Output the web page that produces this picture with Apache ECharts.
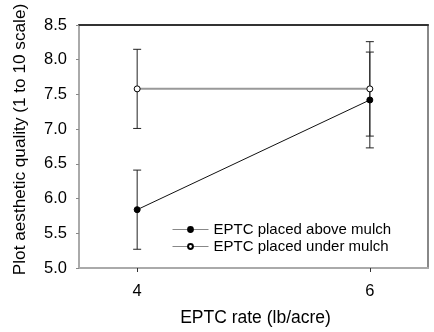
<!DOCTYPE html>
<html>
<head>
<meta charset="utf-8">
<script src="https://cdn.jsdelivr.net/npm/echarts@6/dist/echarts.min.js"></script>
<style>
  html, body { margin: 0; padding: 0; background: #fff; }
  #chart { width: 434px; height: 332px; }
</style>
</head>
<body>
<div id="chart"></div>
<script>
const rates = [4, 6];
const aboveMean = [5.84, 7.42];
const aboveErr = [0.57, 0.69];
const underMean = [7.58, 7.58];
const underErr = [0.57, 0.68];

const font = "Arial, 'Liberation Sans', sans-serif";

function errData(means, errs) {
    return rates.map((r, i) => [r, means[i] - errs[i], means[i] + errs[i]]);
}

function errorBar(params, api) {
    const lo = api.coord([api.value(0), api.value(1)]);
    const hi = api.coord([api.value(0), api.value(2)]);
    const w = 4;
    const style = { stroke: "#222", lineWidth: 1 };
    return {
        type: "group",
        children: [
            { type: "line", shape: { x1: lo[0], y1: lo[1], x2: hi[0], y2: hi[1] }, style },
            { type: "line", shape: { x1: hi[0] - w, y1: hi[1], x2: hi[0] + w, y2: hi[1] }, style },
            { type: "line", shape: { x1: lo[0] - w, y1: lo[1], x2: lo[0] + w, y2: lo[1] }, style },
        ],
    };
}

const chart = echarts.init(document.getElementById("chart"), null, { renderer: "canvas" });

chart.setOption({
    animation: false,
    backgroundColor: "#fff",
    grid: { left: 79, right: 6, top: 25, bottom: 61 },
    legend: {
        left: 167,
        top: 217,
        orient: "vertical",
        itemWidth: 36,
        itemHeight: 6,
        itemGap: 2,
        textStyle: { fontFamily: font, fontSize: 15, color: "#000" },
        data: [
            { name: "EPTC placed above mulch", lineStyle: { color: "#888", width: 1 } },
            { name: "EPTC placed under mulch", lineStyle: { color: "#888", width: 1 } },
        ],
    },
    xAxis: [
        {
            type: "value",
            min: 3.5,
            max: 6.5,
            position: "bottom",
            name: "EPTC rate (lb/acre)",
            nameLocation: "middle",
            nameGap: 41,
            nameTextStyle: { fontFamily: font, fontSize: 17.5, color: "#000", padding: [0, 0, 0, 4] },
            axisLine: { lineStyle: { color: "#aaa", width: 2 } },
            axisTick: { customValues: rates, length: 4, lineStyle: { color: "#333" } },
            axisLabel: { customValues: rates, margin: 15, fontFamily: font, fontSize: 16.5, color: "#000" },
            splitLine: { show: false },
        },
        {
            type: "value",
            min: 3.5,
            max: 6.5,
            position: "top",
            axisLine: { lineStyle: { color: "#333", width: 2 } },
            axisTick: { show: false },
            axisLabel: { show: false },
            splitLine: { show: false },
        },
    ],
    yAxis: [
        {
            type: "value",
            min: 5,
            max: 8.5,
            interval: 0.5,
            position: "left",
            name: "Plot aesthetic quality (1 to 10 scale)",
            nameLocation: "middle",
            nameGap: 50,
            nameTextStyle: { fontFamily: font, fontSize: 17.2, color: "#000", padding: [0, 0, 0, 14] },
            axisLine: { show: true, lineStyle: { color: "#aaa", width: 2 } },
            axisTick: { show: true, length: 3, lineStyle: { color: "#888" } },
            axisLabel: {
                margin: 12,
                fontFamily: font,
                fontSize: 16.5,
                color: "#000",
                formatter: (v) => v.toFixed(1),
            },
            splitLine: { show: false },
        },
        {
            type: "value",
            min: 5,
            max: 8.5,
            position: "right",
            axisLine: { show: true, lineStyle: { color: "#888", width: 2 } },
            axisTick: { show: false },
            axisLabel: { show: false },
            splitLine: { show: false },
        },
    ],
    series: [
        {
            type: "custom",
            renderItem: errorBar,
            data: errData(underMean, underErr),
            z: 1,
            silent: true,
        },
        {
            type: "custom",
            renderItem: errorBar,
            data: errData(aboveMean, aboveErr),
            z: 1,
            silent: true,
        },
        {
            name: "EPTC placed above mulch",
            type: "line",
            data: rates.map((r, i) => [r, aboveMean[i]]),
            symbol: "circle",
            symbolSize: 6,
            lineStyle: { color: "#111", width: 1 },
            itemStyle: { color: "#000", borderColor: "#000", borderWidth: 1 },
            z: 3,
        },
        {
            name: "EPTC placed under mulch",
            type: "line",
            data: rates.map((r, i) => [r, underMean[i]]),
            symbol: "circle",
            symbolSize: 6,
            lineStyle: { color: "#999", width: 2 },
            itemStyle: { color: "#fff", borderColor: "#000", borderWidth: 1 },
            z: 3,
        },
    ],
});
</script>
</body>
</html>
